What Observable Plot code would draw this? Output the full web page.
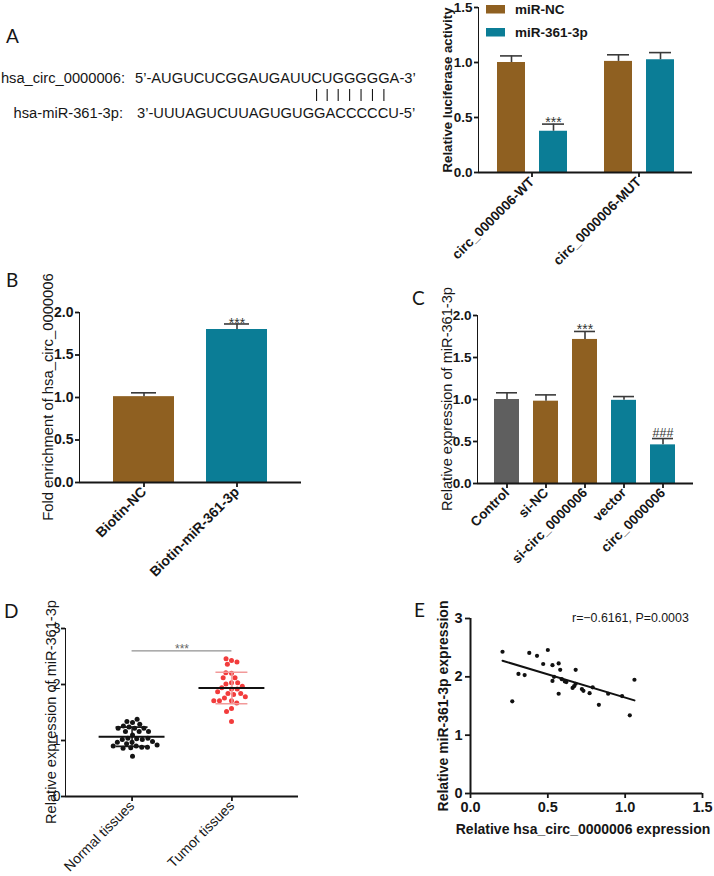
<!DOCTYPE html>
<html><head><meta charset="utf-8">
<script src="https://cdn.jsdelivr.net/npm/d3@7"></script>
<script src="https://cdn.jsdelivr.net/npm/@observablehq/plot@0.6"></script>
<style>
html,body{margin:0;padding:0;background:#fff;}
#fig{position:relative;width:714px;height:876px;overflow:hidden;background:#fff;}
#fig > svg{position:absolute;overflow:visible;}
.ax g[aria-label*="axis"] line, .ax g[aria-label*="axis"] path{stroke-width:1.8px;}
</style></head>
<body><div id="fig"></div>
<script>
// ---------- DATA ----------
// Panel A: sequences
const circLabel = "hsa_circ_0000006:";
const mirLabel = "hsa-miR-361-3p:";
const seqCirc = "5’-AUGUCUCGGAUGAUUCUGGGGGA-3’";
const seqMir  = "3’-UUUAGUCUUAGUGUGGACCCCCU-5’";
const pairedNt = [16, 17, 18, 19, 20, 21, 22]; // paired nucleotide positions (1-based, after 5’-)
// Panel A: luciferase
const groupsA = ["circ_0000006-WT", "circ_0000006-MUT"];
const seriesA = ["miR-NC", "miR-361-3p"];
const ncA = [1.00, 1.01];
const ncErrA = [0.06, 0.06];
const mirA = [0.375, 1.025];
const mirErrA = [0.065, 0.065];
const sigNcA = ["", ""];
const sigMirA = ["***", ""];
// Panel B
const catsB = ["Biotin-NC", "Biotin-miR-361-3p"];
const valB = [1.01, 1.80];
const errB = [0.045, 0.065];
const sigB = ["", "***"];
// Panel C
const catsC = ["Control", "si-NC", "si-circ_0000006", "vector", "circ_0000006"];
const setC = ["Control", "Knockdown", "Knockdown", "Overexpression", "Overexpression"];
const valC = [1.00, 0.98, 1.715, 0.99, 0.46];
const errC = [0.08, 0.075, 0.095, 0.045, 0.075];
const sigC = ["", "", "***", "", "###"];
// Panel D
const groupsD = ["Normal tissues", "Tumor tissues"];
const normalD = [1.32,1.34,1.38,1.29,1.26,1.24,1.22,1.22,1.22,1.16,1.16,1.16,1.10,1.04,1.03,1.02,1.02,1.04,0.97,0.97,0.98,0.94,0.90,0.88,0.87,0.86,0.88,0.90,0.92,0.72];
const tumorD = [2.43,2.46,2.40,2.36,2.20,2.21,2.12,2.12,2.03,2.01,2.03,1.97,1.92,1.92,1.94,1.84,1.84,1.82,1.87,1.76,1.78,1.71,1.67,1.71,1.71,1.57,1.52,1.34];
const sigD = "***";
const sigLevelD = 2.6;
// Panel E
const circE = [0.207,0.27,0.31,0.35,0.38,0.43,0.47,0.50,0.53,0.53,0.54,0.57,0.58,0.57,0.59,0.61,0.62,0.68,0.66,0.67,0.68,0.72,0.73,0.77,0.79,0.83,0.89,0.98,1.03,1.06];
const mirE  = [2.43,1.58,2.05,2.03,2.41,2.36,2.22,2.46,2.20,1.93,2.00,2.23,2.12,1.71,1.96,1.92,1.91,2.12,1.81,1.84,1.88,1.79,1.76,1.72,1.82,1.52,1.71,1.67,1.34,1.95];
const statE = "r=−0.6161, P=0.0003";

// ---------- STYLE ----------
const FONT = '"Liberation Sans", Arial, Helvetica, sans-serif';
const BROWN = "#8f6021", TEAL = "#0b7d96", GRAY = "#5f5f5f", ERR = "#3a3a3a";
const fig = document.getElementById("fig");
function place(el, left, top) {
  el.style.position = "absolute";
  el.style.left = left + "px";
  el.style.top = top + "px";
  el.classList.add("ax");
  fig.appendChild(el);
}
const st = (size, weight) => ({fontFamily: FONT, fontSize: size + "px", fontWeight: weight, color: "#161616", background: "transparent", overflow: "visible"});
const isStar = d => d.sig === "***";
const isHash = d => d.sig === "###";

// ---------- PANEL A chart ----------
const rowsA = [];
groupsA.forEach((g, i) => {
  rowsA.push({group: g, series: seriesA[0], value: ncA[i], err: ncErrA[i], sig: sigNcA[i]});
  rowsA.push({group: g, series: seriesA[1], value: mirA[i], err: mirErrA[i], sig: sigMirA[i]});
});
place(Plot.plot({
  width: 354, height: 260, marginLeft: 117, marginRight: 22, marginTop: 7, marginBottom: 88,
  style: st(13.5, "bold"),
  facet: {data: rowsA, x: "group"},
  fx: {domain: groupsA, padding: 0, axis: "bottom", label: null, tickSize: 5, tickPadding: 2, tickRotate: -45},
  x: {domain: seriesA, paddingInner: 0.34, paddingOuter: 0.435, axis: null},
  y: {domain: [0, 1.5], ticks: [0, 0.5, 1, 1.5], tickFormat: ".1f", label: null, line: true, tickSize: 4, tickPadding: 2},
  color: {domain: seriesA, range: [BROWN, TEAL]},
  marks: [
    Plot.barY(rowsA, {x: "series", y: "value", fill: "series"}),
    Plot.ruleX(rowsA, {x: "series", y1: "value", y2: d => d.value + d.err, stroke: ERR, strokeWidth: 1.6}),
    Plot.tickY(rowsA, {x: "series", y: d => d.value + d.err, stroke: ERR, strokeWidth: 1.6, insetLeft: 3, insetRight: 3}),
    Plot.text(rowsA, {filter: isStar, x: "series", y: d => d.value + d.err, text: "sig", lineAnchor: "bottom", dy: 3, fontSize: 14, fontWeight: "normal", fill: "#333"}),
    Plot.ruleY([0], {stroke: "#161616", strokeWidth: 2})
  ]
}), 360, 0);

// ---------- PANEL B ----------
const rowsB = catsB.map((c, i) => ({cat: c, value: valB[i], err: errB[i], sig: sigB[i]}));
place(Plot.plot({
  width: 360, height: 300, marginLeft: 79, marginRight: 59, marginTop: 52, marginBottom: 78,
  style: st(14, "bold"),
  x: {domain: catsB, paddingInner: 0.34, paddingOuter: 0.36, label: null, tickSize: 5, tickPadding: 2, tickRotate: -45},
  y: {domain: [0, 2], ticks: [0, 0.5, 1, 1.5, 2], tickFormat: ".1f", label: null, line: true, tickSize: 4, tickPadding: 2},
  color: {domain: catsB, range: [BROWN, TEAL]},
  marks: [
    Plot.barY(rowsB, {x: "cat", y: "value", fill: "cat"}),
    Plot.ruleX(rowsB, {x: "cat", y1: "value", y2: d => d.value + d.err, stroke: ERR, strokeWidth: 1.6}),
    Plot.tickY(rowsB, {x: "cat", y: d => d.value + d.err, stroke: ERR, strokeWidth: 1.6, insetLeft: 18, insetRight: 18}),
    Plot.text(rowsB, {filter: isStar, x: "cat", y: d => d.value + d.err, text: "sig", lineAnchor: "bottom", dy: 4, fontSize: 14, fontWeight: "normal", fill: "#333"}),
    Plot.ruleY([0], {stroke: "#161616", strokeWidth: 2})
  ]
}), 0, 260);

// ---------- PANEL C ----------
const rowsC = catsC.map((c, i) => ({cat: c, set: setC[i], value: valC[i], err: errC[i], sig: sigC[i]}));
place(Plot.plot({
  width: 354, height: 300, marginLeft: 117, marginRight: 21, marginTop: 55, marginBottom: 77,
  style: st(13.5, "bold"),
  x: {domain: catsC, paddingInner: 0.35, paddingOuter: 0.4, label: null, tickSize: 5, tickPadding: 2, tickRotate: -45},
  y: {domain: [0, 2], ticks: [0, 0.5, 1, 1.5, 2], tickFormat: ".1f", label: null, line: true, tickSize: 4, tickPadding: 2},
  color: {domain: ["Control", "Knockdown", "Overexpression"], range: [GRAY, BROWN, TEAL]},
  marks: [
    Plot.barY(rowsC, {x: "cat", y: "value", fill: "set"}),
    Plot.ruleX(rowsC, {x: "cat", y1: "value", y2: d => d.value + d.err, stroke: ERR, strokeWidth: 1.6}),
    Plot.tickY(rowsC, {x: "cat", y: d => d.value + d.err, stroke: ERR, strokeWidth: 1.6, insetLeft: 2, insetRight: 2}),
    Plot.text(rowsC, {filter: isStar, x: "cat", y: d => d.value + d.err, text: "sig", lineAnchor: "bottom", dy: 3, fontSize: 14, fontWeight: "normal", fill: "#333"}),
    Plot.text(rowsC, {filter: isHash, x: "cat", y: d => d.value + d.err, text: "sig", lineAnchor: "bottom", dy: -2, fontSize: 12.5, fontWeight: "normal", fill: "#333"}),
    Plot.ruleY([0], {stroke: "#161616", strokeWidth: 2})
  ]
}), 360, 260);

// ---------- PANEL D ----------
const valuesD = [normalD, tumorD];
const rowsD = [];
valuesD.forEach((vals, i) => vals.forEach(v => rowsD.push({group: groupsD[i], value: v})));
const statsD = groupsD.map((g, i) => {
  const m = d3.mean(valuesD[i]), s = d3.deviation(valuesD[i]);
  return {group: g, pos: i + 1, mean: m, lo: m - s, hi: m + s};
});
const sdColor = ["#161616", "#f29a9a"];
const MEANW = 0.33, SDW = 0.16;
// dots (beeswarm via dodge)
place(Plot.plot({
  width: 360, height: 316, marginLeft: 65, marginRight: 62, marginTop: 68, marginBottom: 80,
  style: st(13, "normal"),
  facet: {data: rowsD, x: "group"},
  fx: {domain: groupsD, paddingInner: 0.33, paddingOuter: 0.333, axis: null, label: null},
  y: {domain: [0, 3], axis: null},
  color: {domain: groupsD, range: ["#141414", "#f23c3c"]},
  marks: [
    Plot.dot(rowsD, Plot.dodgeX({anchor: "middle", padding: 0.7}, {y: "value", r: 2.5, fill: "group"}))
  ]
}), 0, 560);
// axes + summary lines
const sigRow = [{x1: statsD[0].pos, x2: statsD[1].pos, y: sigLevelD, text: sigD}];
place(Plot.plot({
  width: 360, height: 316, marginLeft: 65, marginRight: 62, marginTop: 68, marginBottom: 80,
  style: st(14, "normal"),
  x: {domain: [1 / 3, 8 / 3], ticks: [1, 2], tickFormat: i => groupsD[i - 1], tickRotate: -45, tickSize: 5, tickPadding: 2, label: null},
  y: {domain: [0, 3], ticks: [0, 1, 2, 3], tickFormat: "d", label: null, line: true, tickSize: 4, tickPadding: 1},
  marks: [
    Plot.ruleX(statsD, {x: "pos", y1: "lo", y2: "hi", stroke: (d, i) => sdColor[i], strokeWidth: 1.5}),
    Plot.ruleY(statsD, {x1: d => d.pos - SDW, x2: d => d.pos + SDW, y: "hi", stroke: (d, i) => sdColor[i], strokeWidth: 1.6}),
    Plot.ruleY(statsD, {x1: d => d.pos - SDW, x2: d => d.pos + SDW, y: "lo", stroke: (d, i) => sdColor[i], strokeWidth: 1.6}),
    Plot.ruleY(statsD, {x1: d => d.pos - MEANW, x2: d => d.pos + MEANW, y: "mean", stroke: "#111", strokeWidth: 2}),
    Plot.ruleY(sigRow, {x1: "x1", x2: "x2", y: "y", stroke: "#777", strokeWidth: 1}),
    Plot.text(sigRow, {x: d => (d.x1 + d.x2) / 2, y: "y", text: "text", lineAnchor: "bottom", dy: 2, fontSize: 12, fill: "#666"}),
    Plot.ruleY([0], {stroke: "#161616", strokeWidth: 1.8})
  ]
}), 0, 560);

// ---------- PANEL E ----------
const rowsE = circE.map((x, i) => ({x, y: mirE[i]}));
place(Plot.plot({
  width: 354, height: 316, marginLeft: 110, marginRight: 12, marginTop: 58, marginBottom: 83,
  style: st(14.5, "bold"),
  x: {domain: [0, 1.5], ticks: [0, 0.5, 1, 1.5], tickFormat: ".1f", label: null, tickSize: 5, tickPadding: 3},
  y: {domain: [0, 3], ticks: [0, 1, 2, 3], tickFormat: "d", label: null, tickSize: 5, tickPadding: 3},
  marks: [
    Plot.dot(rowsE, {x: "x", y: "y", r: 2.1, fill: "#111"}),
    Plot.linearRegressionY(rowsE, {x: "x", y: "y", ci: 0, stroke: "#111", strokeWidth: 2}),
    Plot.ruleX([0], {stroke: "#161616", strokeWidth: 2}),
    Plot.ruleY([0], {stroke: "#161616", strokeWidth: 2})
  ]
}), 360, 560);

// ---------- OVERLAY TEXT ----------
const ov = d3.select("#fig").append("svg")
  .attr("width", 714).attr("height", 876)
  .style("position", "absolute").style("left", "0px").style("top", "0px")
  .style("overflow", "visible").style("pointer-events", "none")
  .attr("font-family", FONT).attr("fill", "#161616");

// panel letters
const letters = [["A", 6, 43], ["B", 6, 287], ["C", 412, 305], ["D", 4, 618], ["E", 414, 617]];
ov.selectAll("text.letter").data(letters).join("text").attr("class", "letter")
  .attr("x", d => d[1]).attr("y", d => d[2]).text(d => d[0])
  .attr("font-family", "Lato, 'Open Sans', sans-serif").attr("font-size", 19);

// sequences
const SEQ = 14.7;
ov.append("text").attr("x", 125).attr("y", 83).attr("text-anchor", "end").attr("font-size", SEQ).text(circLabel);
const tCirc = ov.append("text").attr("x", 135).attr("y", 83).attr("font-size", SEQ).text(seqCirc);
ov.append("text").attr("x", 123).attr("y", 118).attr("text-anchor", "end").attr("font-size", SEQ).text(mirLabel);
ov.append("text").attr("x", 137).attr("y", 118).attr("font-size", SEQ).text(seqMir);
const node = tCirc.node();
pairedNt.forEach(p => {
  const ext = node.getExtentOfChar(p + 2);
  const cx = ext.x + ext.width / 2;
  ov.append("line").attr("x1", cx).attr("x2", cx).attr("y1", 89).attr("y2", 101)
    .attr("stroke", "#161616").attr("stroke-width", 1.1);
});

// legend A
const legA = [[seriesA[0], BROWN, 5, 13.5], [seriesA[1], TEAL, 28, 37]];
legA.forEach(([lab, col, ry, ty]) => {
  ov.append("rect").attr("x", 486).attr("y", ry).attr("width", 19).attr("height", 8.5).attr("fill", col);
  ov.append("text").attr("x", 515).attr("y", ty).attr("font-size", 13.5).attr("font-weight", "bold").text(lab);
});

// axis titles
function vtitle(text, x, y, size, weight) {
  ov.append("text").attr("transform", `translate(${x},${y}) rotate(-90)`)
    .attr("text-anchor", "middle").attr("dominant-baseline", "central")
    .attr("font-size", size).attr("font-weight", weight).text(text);
}
vtitle("Relative luciferase activity", 447, 90, 13.2, "bold");
vtitle("Fold enrichment of hsa_circ_0000006", 48, 397, 14.8, "normal");
vtitle("Relative expression of miR-361-3p", 447, 399, 14.6, "normal");
vtitle("Relative expression of miR-361-3p", 51, 712, 14.6, "normal");
vtitle("Relative miR-361-3p expression", 443, 706, 14, "bold");
ov.append("text").attr("x", 583).attr("y", 829).attr("text-anchor", "middle").attr("dominant-baseline", "central")
  .attr("font-size", 14).attr("font-weight", "bold").text("Relative hsa_circ_0000006 expression");
ov.append("text").attr("x", 572).attr("y", 621.5).attr("font-size", 12.4).text(statE);
</script>
</body></html>
